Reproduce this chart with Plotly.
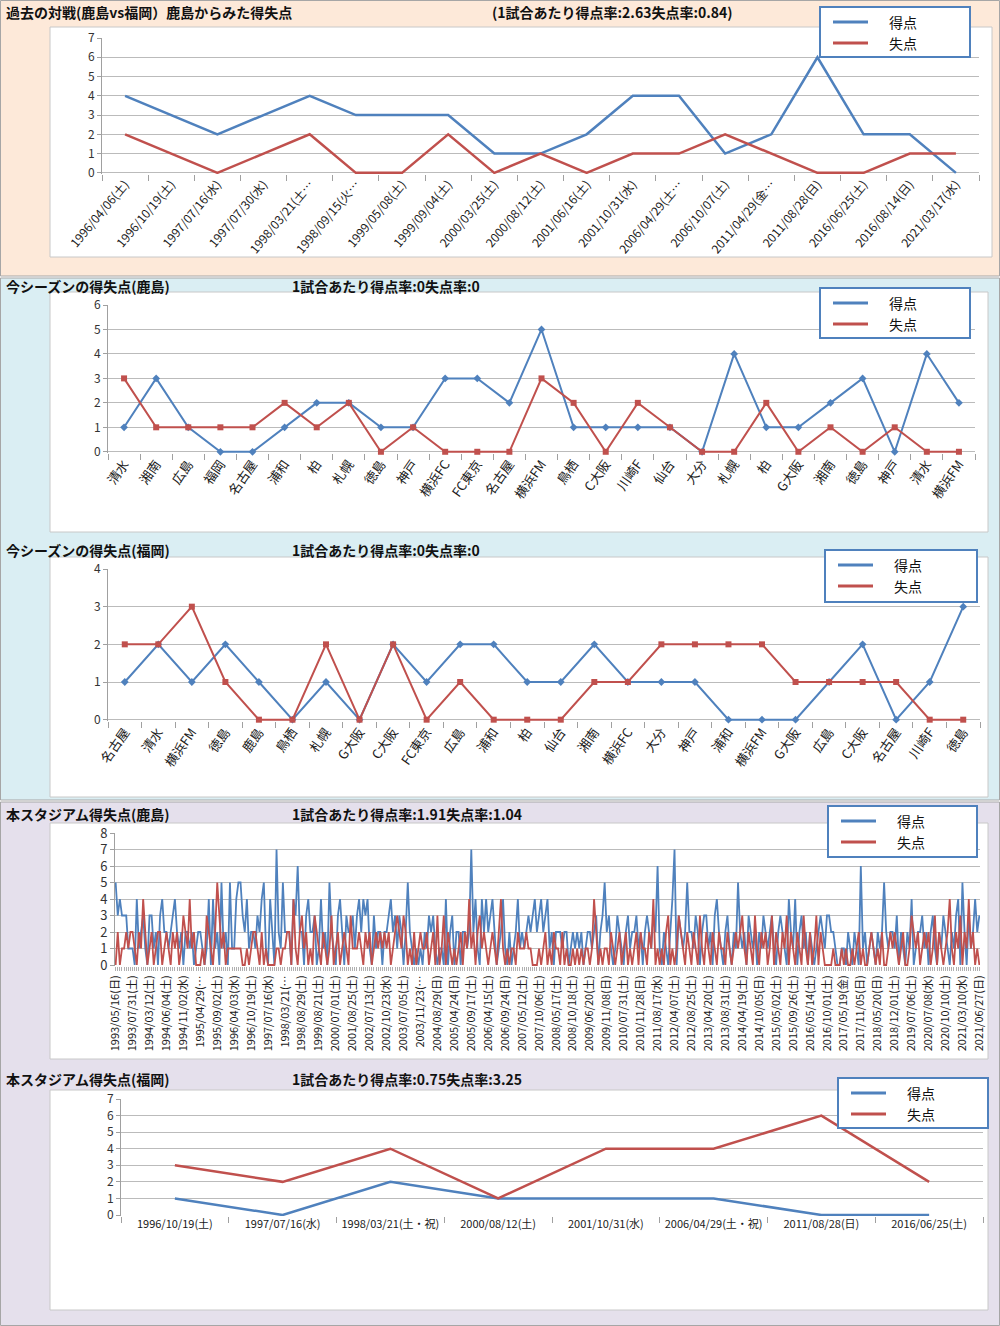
import plotly.graph_objects as go

W, H = 1000, 1326
BLUE = '#4F81BD'
RED = '#C0504D'
FONT = 'Noto Sans CJK JP'

# ---------------- data ----------------
p1_dates = ['1996/04/06(土)', '1996/10/19(土)', '1997/07/16(水)', '1997/07/30(水)', '1998/03/21(土…',
            '1998/09/15(火…', '1999/05/08(土)', '1999/09/04(土)', '2000/03/25(土)', '2000/08/12(土)',
            '2001/06/16(土)', '2001/10/31(水)', '2006/04/29(土…', '2006/10/07(土)', '2011/04/29(金…',
            '2011/08/28(日)', '2016/06/25(土)', '2016/08/14(日)', '2021/03/17(水)']
p1_for = [4, 3, 2, 3, 4, 3, 3, 3, 1, 1, 2, 4, 4, 1, 2, 6, 2, 2, 0]
p1_against = [2, 1, 0, 1, 2, 0, 0, 2, 0, 1, 0, 1, 1, 2, 1, 0, 0, 1, 1]

p2_teams = ['清水', '湘南', '広島', '福岡', '名古屋', '浦和', '柏', '札幌', '徳島', '神戸', '横浜FC', 'FC東京',
            '名古屋', '横浜FM', '鳥栖', 'C大阪', '川崎F', '仙台', '大分', '札幌', '柏', 'G大阪', '湘南', '徳島',
            '神戸', '清水', '横浜FM']
p2_for = [1, 3, 1, 0, 0, 1, 2, 2, 1, 1, 3, 3, 2, 5, 1, 1, 1, 1, 0, 4, 1, 1, 2, 3, 0, 4, 2]
p2_against = [3, 1, 1, 1, 1, 2, 1, 2, 0, 1, 0, 0, 0, 3, 2, 0, 2, 1, 0, 0, 2, 0, 1, 0, 1, 0, 0]

p3_teams = ['名古屋', '清水', '横浜FM', '徳島', '鹿島', '鳥栖', '札幌', 'G大阪', 'C大阪', 'FC東京', '広島', '浦和',
            '柏', '仙台', '湘南', '横浜FC', '大分', '神戸', '浦和', '横浜FM', 'G大阪', '広島', 'C大阪', '名古屋',
            '川崎F', '徳島']
p3_for = [1, 2, 1, 2, 1, 0, 1, 0, 2, 1, 2, 2, 1, 1, 2, 1, 1, 1, 0, 0, 0, 1, 2, 0, 1, 3]
p3_against = [2, 2, 3, 1, 0, 0, 2, 0, 2, 0, 1, 0, 0, 0, 1, 1, 2, 2, 2, 2, 1, 1, 1, 1, 0, 0]

p4_ticklabels = ['1993/05/16(日)', '1993/07/31(土)', '1994/03/12(土)', '1994/06/04(土)', '1994/11/02(水)',
                 '1995/04/29(…', '1995/09/02(土)', '1996/04/03(水)', '1996/10/19(土)', '1997/07/16(水)',
                 '1998/03/21(…', '1998/08/29(土)', '1999/08/21(土)', '2000/07/01(土)', '2001/08/25(土)',
                 '2002/07/13(土)', '2002/10/23(水)', '2003/07/05(土)', '2003/11/23(…', '2004/08/29(日)',
                 '2005/04/24(日)', '2005/09/17(土)', '2006/04/15(土)', '2006/09/24(日)', '2007/05/12(土)',
                 '2007/10/06(土)', '2008/05/17(土)', '2008/10/18(土)', '2009/06/20(土)', '2009/11/08(日)',
                 '2010/07/31(土)', '2010/11/28(日)', '2011/08/17(水)', '2012/04/07(土)', '2012/08/25(土)',
                 '2013/04/20(土)', '2013/08/31(土)', '2014/04/19(土)', '2014/10/05(日)', '2015/05/02(土)',
                 '2015/09/26(土)', '2016/05/14(土)', '2016/10/01(土)', '2017/05/19(金)', '2017/11/05(日)',
                 '2018/05/20(日)', '2018/12/01(土)', '2019/07/06(土)', '2020/07/08(水)', '2020/10/10(土)',
                 '2021/03/10(水)', '2021/06/27(日)']
p4_for = [
    5, 3, 4, 3, 3, 3, 1, 1,  1, 0, 4, 1, 2, 3, 1, 0,  3, 3, 1, 2, 0, 3, 4, 2,  2, 1, 2, 3, 4, 2, 1, 2,
    0, 2, 2, 1, 2, 0, 1, 2,  2, 1, 0, 1, 4, 0, 4, 1,  2, 0, 5, 1, 2, 0, 5, 1,  1, 4, 5, 5, 3, 2, 4, 1,
    2, 2, 1, 3, 2, 4, 5, 1,  0, 4, 2, 0, 7, 2, 1, 5,  2, 2, 2, 0, 4, 3, 6, 2,  2, 0, 3, 4, 2, 2, 3, 0,
    1, 4, 1, 2, 0, 5, 2, 1,  0, 3, 4, 2, 0, 3, 2, 2,  3, 1, 3, 4, 2, 4, 3, 4,  1, 0, 3, 1, 2, 2, 0, 2,
    2, 3, 4, 2, 3, 1, 3, 2,  0, 2, 5, 2, 1, 0, 1, 0,  1, 0, 2, 1, 3, 2, 3, 1,  0, 1, 1, 0, 4, 0, 2, 3,
    0, 2, 2, 0, 2, 2, 1, 2,  7, 2, 4, 1, 0, 4, 2, 4,  2, 3, 4, 2, 0, 1, 2, 4,  1, 0, 2, 0, 1, 2, 4, 1,
    2, 1, 2, 3, 2, 3, 4, 2,  3, 4, 2, 3, 4, 1, 2, 0,  2, 2, 2, 1, 2, 2, 0, 1,  2, 1, 2, 1, 2, 0, 1, 2,
    2, 1, 2, 3, 0, 2, 3, 5,  2, 3, 1, 0, 1, 3, 2, 1,  0, 2, 3, 1, 2, 2, 3, 1,  2, 0, 2, 3, 2, 1, 3, 2,
    6, 1, 0, 2, 1, 0, 2, 4,  7, 0, 3, 2, 1, 2, 5, 2,  2, 1, 3, 2, 0, 2, 3, 3,  1, 2, 0, 3, 4, 2, 1, 0,
    2, 3, 1, 0, 2, 1, 5, 2,  1, 2, 0, 3, 2, 1, 2, 0,  2, 1, 3, 2, 1, 2, 3, 1,  0, 2, 3, 2, 1, 0, 4, 2,
    1, 4, 0, 2, 3, 1, 2, 0,  2, 1, 0, 1, 2, 3, 2, 1,  3, 3, 2, 2, 1, 0, 0, 1,  1, 0, 2, 1, 0, 2, 1, 0,
    6, 1, 2, 0, 1, 2, 1, 0,  2, 1, 2, 5, 2, 1, 2, 2,  1, 3, 0, 2, 1, 0, 2, 1,  4, 0, 1, 2, 2, 3, 1, 2,
    0, 2, 3, 1, 0, 2, 1, 3,  2, 1, 0, 2, 1, 3, 4, 0,  5, 2, 0, 3, 1, 2, 4, 2,  3]
p4_against = [
    0, 2, 0, 1, 1, 2, 1, 2,  2, 1, 0, 2, 1, 4, 2, 0,  1, 2, 0, 1, 2, 2, 0, 1,  2, 1, 0, 2, 1, 2, 0, 1,
    3, 2, 1, 4, 1, 2, 0, 0,  0, 1, 0, 3, 2, 1, 0, 2,  5, 3, 1, 2, 0, 1, 1, 1,  1, 1, 1, 1, 0, 0, 1, 0,
    1, 2, 2, 1, 0, 2, 0, 1,  0, 0, 0, 0, 1, 1, 0, 1,  1, 2, 2, 0, 4, 1, 0, 2,  3, 1, 2, 0, 1, 0, 3, 2,
    1, 0, 2, 1, 0, 1, 3, 0,  1, 2, 0, 1, 2, 1, 0, 3,  1, 1, 1, 2, 1, 0, 2, 1,  2, 0, 1, 2, 1, 2, 1, 2,
    1, 2, 0, 1, 2, 3, 2, 1,  3, 2, 0, 1, 0, 2, 0, 1,  2, 1, 1, 2, 0, 1, 2, 0,  3, 0, 1, 3, 0, 2, 1, 0,
    1, 0, 1, 2, 0, 2, 1, 4,  1, 2, 0, 2, 3, 1, 2, 1,  0, 1, 2, 1, 0, 2, 4, 1,  0, 1, 0, 1, 1, 0, 2, 1,
    1, 1, 2, 1, 1, 0, 0, 0,  1, 0, 1, 2, 0, 1, 0, 2,  1, 1, 0, 2, 0, 1, 0, 0,  1, 0, 1, 0, 1, 0, 1, 1,
    0, 1, 4, 2, 0, 1, 0, 1,  1, 0, 2, 1, 0, 1, 2, 0,  1, 2, 0, 1, 0, 1, 2, 0,  2, 1, 1, 0, 2, 1, 4, 0,
    1, 0, 1, 0, 2, 3, 0, 1,  0, 1, 3, 2, 1, 0, 2, 1,  0, 2, 1, 0, 3, 1, 0, 2,  1, 0, 2, 1, 0, 2, 1, 1,
    0, 2, 1, 0, 1, 2, 1, 2,  3, 1, 0, 2, 1, 0, 3, 1,  0, 2, 1, 2, 0, 1, 3, 0,  2, 1, 0, 2, 1, 3, 0, 2,
    1, 0, 2, 1, 0, 3, 1, 0,  2, 0, 1, 3, 0, 2, 1, 0,  0, 0, 0, 1, 0, 0, 0, 1,  0, 1, 0, 0, 1, 0, 1, 2,
    0, 1, 0, 0, 1, 2, 1, 0,  1, 0, 2, 0, 0, 1, 2, 1,  2, 1, 0, 1, 2, 0, 0, 1,  3, 2, 1, 2, 0, 1, 2, 1,
    2, 0, 1, 3, 0, 2, 1, 0,  1, 2, 4, 1, 0, 2, 1, 3,  0, 2, 1, 4, 1, 2, 0, 1,  0]

p5_dates = ['1996/10/19(土)', '1997/07/16(水)', '1998/03/21(土・祝)', '2000/08/12(土)', '2001/10/31(水)',
            '2006/04/29(土・祝)', '2011/08/28(日)', '2016/06/25(土)']
p5_for = [1, 0, 2, 1, 1, 1, 0, 0]
p5_against = [3, 2, 4, 1, 4, 4, 6, 2]

titles = [
    ('過去の対戦(鹿島vs福岡）鹿島からみた得失点', '(1試合あたり得点率:2.63失点率:0.84)'),
    ('今シーズンの得失点(鹿島)', '1試合あたり得点率:0失点率:0'),
    ('今シーズンの得失点(福岡)', '1試合あたり得点率:0失点率:0'),
    ('本スタジアム得失点(鹿島)', '1試合あたり得点率:1.91失点率:1.04'),
    ('本スタジアム得失点(福岡)', '1試合あたり得点率:0.75失点率:3.25'),
]
series_names = ['得点', '失点']


def fx(x):
    return x / W


def fy(y):
    return 1 - y / H


fig = go.Figure()
shapes = []
annotations = []

# section backgrounds
for (y0, y1, col) in [(0.5, 276, '#FDE9D9'), (278, 800, '#DAEEF3'), (802, 1325.5, '#E5E0EC')]:
    shapes.append(dict(type='rect', xref='paper', yref='paper', x0=fx(0.5), x1=fx(999.5), y0=fy(y1), y1=fy(y0),
                       fillcolor=col, line=dict(color='#A6A6A6', width=1), layer='below'))

# white chart boxes
for (x0, y0, x1, y1) in [(50, 27, 992, 257), (50, 292, 988, 532), (50, 557, 988, 797),
                         (50, 823, 988, 1059), (50, 1090, 988, 1310)]:
    shapes.append(dict(type='rect', xref='paper', yref='paper', x0=fx(x0), x1=fx(x1), y0=fy(y1), y1=fy(y0),
                       fillcolor='white', line=dict(color='#C8C8C8', width=1), layer='below'))

panels = [
    dict(x=list(range(len(p1_for))), f=p1_for, a=p1_against, ticks=p1_dates, tv=list(range(len(p1_for))),
         dom_x=(102, 979), dom_y=(38, 174), yr=(-0.06, 7), xr=(-0.5, len(p1_for) - 0.5), ang=-50,
         markers=False, lw=2.5, tfont=12, yfont=12, legend=(820, 7, 970, 57), title_y=12, boundary=True),
    dict(x=list(range(len(p2_for))), f=p2_for, a=p2_against, ticks=p2_teams, tv=list(range(len(p2_for))),
         dom_x=(108, 975), dom_y=(305, 453), yr=(-0.05, 6), xr=(-0.5, len(p2_for) - 0.5), ang=-55,
         markers=True, lw=2, tfont=13, yfont=12, legend=(820, 288, 970, 338), title_y=286, boundary=True),
    dict(x=list(range(len(p3_for))), f=p3_for, a=p3_against, ticks=p3_teams, tv=list(range(len(p3_for))),
         dom_x=(108, 980), dom_y=(569, 721), yr=(-0.035, 4), xr=(-0.5, len(p3_for) - 0.5), ang=-55,
         markers=True, lw=2, tfont=13, yfont=12, legend=(825, 550, 977, 602), title_y=550, boundary=True),
    dict(x=list(range(len(p4_for))), f=p4_for, a=p4_against, ticks=p4_ticklabels,
         tv=list(range(0, len(p4_for), 8)),
         dom_x=(115, 980), dom_y=(833, 966), yr=(-0.06, 8), xr=(-0.3, len(p4_for) - 0.7), ang=-90,
         markers=False, lw=1.8, tfont=11, yfont=13, legend=(828, 806, 977, 857), title_y=814, boundary=False),
    dict(x=list(range(len(p5_for))), f=p5_for, a=p5_against, ticks=p5_dates, tv=list(range(len(p5_for))),
         dom_x=(121, 983), dom_y=(1099, 1216), yr=(-0.06, 7), xr=(-0.5, len(p5_for) - 0.5), ang=0,
         markers=False, lw=2.5, tfont=11, yfont=12, legend=(838, 1078, 988, 1128), title_y=1079, boundary=True),
]

layout_axes = {}
for i, p in enumerate(panels, start=1):
    xa = 'x' if i == 1 else f'x{i}'
    ya = 'y' if i == 1 else f'y{i}'
    for vals, col, sym, msz, nm in [(p['f'], BLUE, 'diamond', 6, series_names[0]),
                                    (p['a'], RED, 'square', 6, series_names[1])]:
        fig.add_trace(go.Scatter(
            x=p['x'], y=vals, mode='lines+markers' if p['markers'] else 'lines', name=nm,
            line=dict(color=col, width=p['lw']), marker=dict(symbol=sym, size=msz, color=col),
            xaxis=xa, yaxis=ya, showlegend=False, cliponaxis=False))
    xkey = 'xaxis' if i == 1 else f'xaxis{i}'
    ykey = 'yaxis' if i == 1 else f'yaxis{i}'
    xcfg = dict(domain=[fx(p['dom_x'][0]), fx(p['dom_x'][1])], anchor=ya, range=list(p['xr']),
                tickmode='array', tickvals=p['tv'], ticktext=p['ticks'], tickangle=p['ang'],
                tickfont=dict(family=FONT, size=p['tfont'], color='#1A1A1A'), automargin=False,
                showgrid=False, zeroline=False, showline=False, ticks='', fixedrange=True)
    if p['boundary']:
        xcfg['minor'] = dict(tickmode='linear', tick0=-0.5, dtick=1, ticks='outside', ticklen=6,
                             tickcolor='#A0A0A0', showgrid=False)
    else:
        xcfg['minor'] = dict(tickmode='linear', tick0=0, dtick=1, ticks='outside', ticklen=4,
                             tickcolor='#B0B0B0', tickwidth=1, showgrid=False)
        xcfg['ticks'] = 'outside'
        xcfg['ticklen'] = 4
        xcfg['tickcolor'] = '#B0B0B0'
    layout_axes[xkey] = xcfg
    layout_axes[ykey] = dict(domain=[fy(p['dom_y'][1]), fy(p['dom_y'][0])], anchor=xa, range=list(p['yr']),
                             tickmode='linear', tick0=0, dtick=1, showgrid=True, gridcolor='#BBBBBB',
                             gridwidth=1, zeroline=False, showline=True, linecolor='#A0A0A0',
                             ticks='outside', ticklen=4, tickcolor='#A0A0A0', automargin=False,
                             tickfont=dict(family=FONT, size=p['yfont'], color='#333333'), fixedrange=True)

    # titles
    t1, t2 = titles[i - 1]
    annotations.append(dict(text=f'<b>{t1}</b>', x=fx(4), y=fy(p['title_y']), xref='paper', yref='paper',
                            xanchor='left', yanchor='middle', showarrow=False,
                            font=dict(family=FONT, size=14, color='#111111')))
    annotations.append(dict(text=f'<b>{t2}</b>', x=fx(290 if i > 1 else 490), y=fy(p['title_y']),
                            xref='paper', yref='paper', xanchor='left', yanchor='middle', showarrow=False,
                            font=dict(family=FONT, size=14, color='#111111')))

    # legend box
    bx0, by0, bx1, by1 = p['legend']
    shapes.append(dict(type='rect', xref='paper', yref='paper', x0=fx(bx0), x1=fx(bx1), y0=fy(by1), y1=fy(by0),
                       fillcolor='white', line=dict(color='#4F81BD', width=2), layer='above'))
    for k, (col, nm) in enumerate([(BLUE, series_names[0]), (RED, series_names[1])]):
        ly = by0 + 15 + k * 21
        shapes.append(dict(type='line', xref='paper', yref='paper', x0=fx(bx0 + 13), x1=fx(bx0 + 48),
                           y0=fy(ly), y1=fy(ly), line=dict(color=col, width=3), layer='above'))
        annotations.append(dict(text=nm, x=fx(bx0 + 67), y=fy(ly), xref='paper', yref='paper',
                                xanchor='left', yanchor='middle', showarrow=False,
                                font=dict(family=FONT, size=14, color='#111111')))

fig.update_layout(
    width=W, height=H, margin=dict(l=0, r=0, t=0, b=0, pad=0, autoexpand=False),
    paper_bgcolor='white', plot_bgcolor='rgba(0,0,0,0)',
    shapes=shapes, annotations=annotations, showlegend=False,
    font=dict(family=FONT),
    **layout_axes,
)

fig.write_html('out.html', config={'displayModeBar': False},
               post_script="document.body.style.margin='0';")
